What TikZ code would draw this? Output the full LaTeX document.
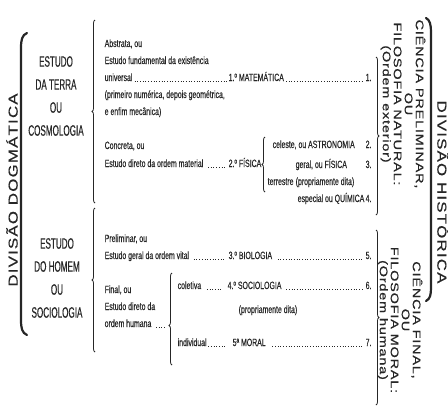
\documentclass[tikz,border=0pt]{standalone}
\usepackage{fontspec}
\setmainfont{Liberation Sans}[FakeStretch=0.66,FakeBold=0.3]
\newfontfamily\condfont{Liberation Sans}[FakeStretch=0.54,FakeBold=0.4]
\newfontfamily\widefont{Liberation Sans}[FakeStretch=1.32,LetterSpace=7,FakeBold=0.5]
\newfontfamily\divfont{Liberation Sans}[FakeStretch=1.3,LetterSpace=9,FakeBold=0.5]
\usetikzlibrary{decorations.pathreplacing}
\definecolor{ink}{gray}{0.15}
\tikzset{
  txt/.style={anchor=base west, inner sep=0.5pt, text=ink, font=\fontsize{10.5}{12}\selectfont},
  headtxt/.style={align=center, inner sep=0pt, text=ink, font=\condfont\fontsize{15}{23}\selectfont},
  sidetxt/.style={align=center, inner sep=0pt, text=ink, font=\widefont\fontsize{11}{11}\selectfont},
  divtxt/.style={inner sep=0pt, text=ink, font=\divfont\fontsize{13}{13}\selectfont},
  leader/.style={ink, line width=0.8pt, dash pattern=on 0.8pt off 1.9pt, shorten <=1.5pt, shorten >=1.5pt},
  thinbrace/.style={decorate, decoration={brace, amplitude=3pt}, ink, line width=0.8pt},
  thickbar/.style={ink, line width=2.2pt, line cap=round},
}
\begin{document}
\begin{tikzpicture}[x=1pt, y=-1pt]
      \path[use as bounding box, fill=white] (0,0) rectangle (448,413);

      % great divisions
	\node[divtxt, rotate=90] (dogm) at (12,190) {DIVISÃO DOGMÁTICA};
	\node[divtxt, rotate=-90] (hist) at (443,192) {DIVISÃO HISTÓRICA};
      \draw[thickbar] (27,33) .. controls (22,35) and (21,40) .. (21,48) -- (21,320) .. controls (21,328) and (22,333) .. (27,335);
      \draw[thickbar] (426,18) .. controls (430,20) and (431,25) .. (431,32) -- (431,288) .. controls (431,295) and (430,299) .. (426,301);

	\node[headtxt] (terra) at (56,96) {ESTUDO\\DA TERRA\\OU\\COSMOLOGIA};
	\node[headtxt] (homem) at (57,278) {ESTUDO\\DO HOMEM\\OU\\SOCIOLOGIA};
      \draw[thinbrace] (95,203) -- (95,20);
      \draw[thinbrace] (95,352) -- (95,208);

      % order exterior
	\node[txt] (abst) at (104,47) {Abstrata, ou};
	\node[txt] (fund) at (104,64) {Estudo fundamental da existência};
	\node[txt] (univ) at (104,81) {universal};
	\node[txt] (mat) at (228,81) {1.º MATEMÁTICA};
	\node[txt] (prim) at (104,98) {(primeiro numérica, depois geométrica,};
	\node[txt] (enfim) at (104,115) {e enfim mecânica)};
	\node[txt] (concr) at (104,149) {Concreta, ou};
	\node[txt] (dirmat) at (104,167) {Estudo direto da ordem material};
	\node[txt] (fis) at (228,167) {2.º FÍSICA};
      \draw[thinbrace] (265,192) -- (265,137);
	\node[txt] (cel) at (272,148) {celeste, ou ASTRONOMIA};
	\node[txt] (ger) at (295,168) {geral, ou FÍSICA};
	\node[txt] (terr) at (267,185) {terrestre};
	\node[txt] (prop1) at (295,185) {(propriamente dita)};
	\node[txt] (esp) at (297,202) {especial ou QUÍMICA};

      % order human
	\node[txt] (prel) at (104,242) {Preliminar, ou};
	\node[txt] (vital) at (104,259) {Estudo geral da ordem vital};
	\node[txt] (bio) at (228,259) {3.º BIOLOGIA};
	\node[txt] (final) at (104,293) {Final, ou};
	\node[txt] (dirda) at (104,310) {Estudo direto da};
	\node[txt] (humana) at (104,327) {ordem humana};
      \coordinate (tip) at (168,327);
      \draw[thinbrace, decoration={aspect=0.43}] (172,365) -- (172,273);
	\node[txt] (colet) at (177,289) {coletiva};
	\node[txt] (soc) at (227,289) {4.º SOCIOLOGIA};
	\node[txt] (prop2) at (238,313) {(propriamente dita)};
	\node[txt] (indiv) at (177,346) {individual};
	\node[txt] (moral) at (232,346) {5ª MORAL};

	\foreach \n/\y in {1/81,2/148,3/168,4/202,5/259,6/289,7/346}{
	   \node[txt] (n\n) at (365,\y) {\n.};
	}

      \draw[leader] (univ.base east) -- (mat.base west);
      \draw[leader] (mat.base east) -- (n1.base west);
      \draw[leader, shorten <=4pt, shorten >=3pt] (dirmat.base east) -- (fis.base west);
      \draw[leader, shorten <=4pt, shorten >=3pt] (vital.base east) -- (bio.base west);
      \draw[leader, shorten <=5pt] (bio.base east) -- (n5.base west);
      \draw[leader, shorten <=4pt] (humana.base east) -- (tip);
      \draw[leader, shorten <=5pt, shorten >=5pt] (colet.base east) -- (soc.base west);
      \draw[leader, shorten <=4pt] (soc.base east) -- (n6.base west);
      \draw[leader, shorten <=1pt, shorten >=6pt] (indiv.base east) -- (moral.base west);
      \draw[leader, shorten <=6pt] (moral.base east) -- (n7.base west);

      % historical side
      \draw[thinbrace] (376,57) -- (376,215);
      \draw[thinbrace] (376,230) -- (376,405);
	\node[sidetxt, rotate=-90] (natur) at (403,104) {CIÊNCIA PRELIMINAR,\\OU\\FILOSOFIA NATURAL:\\(Ordem exterior)};
	\node[sidetxt, rotate=-90] (moralblk) at (400,320) {CIÊNCIA FINAL,\\OU\\FILOSOFIA MORAL:\\(Ordem humana)};
\end{tikzpicture}
\end{document}
